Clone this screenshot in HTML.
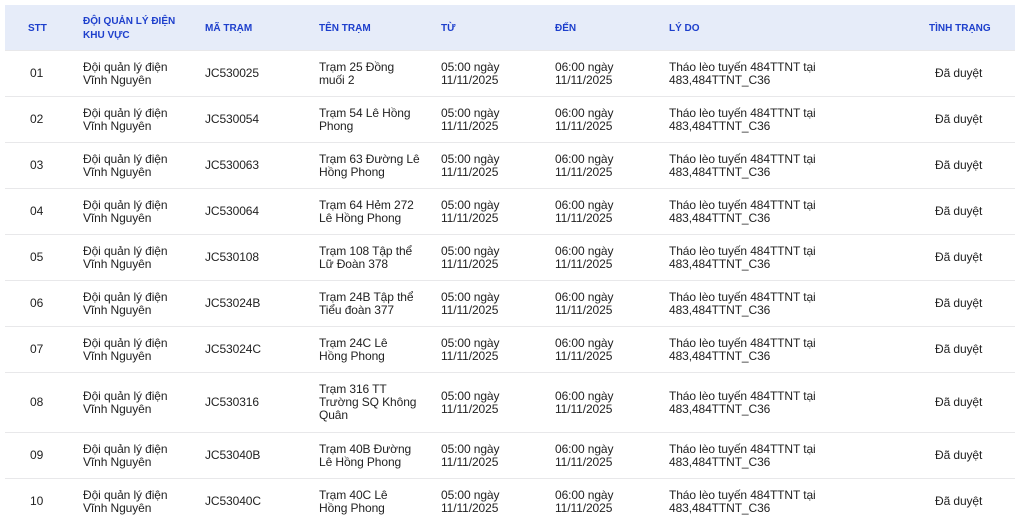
<!DOCTYPE html>
<html><head><meta charset="utf-8"><style>
body{margin:0;width:1024px;height:524px;background:#fff;overflow:hidden;font-family:"Liberation Sans","DejaVu Sans",sans-serif;}
.hd{position:absolute;left:5px;top:5px;width:1010px;height:45px;background:#e6ecf9;}
.h{position:absolute;top:6px;height:45px;display:flex;align-items:center;font-size:10px;font-weight:bold;color:#1d3fcc;line-height:14px;}
.r{position:absolute;left:5px;width:1010px;border-top:1px solid #e8e8ea;}
.c{position:absolute;top:0;bottom:0;display:flex;align-items:center;font-size:12px;letter-spacing:-0.1px;color:#222;line-height:13px;}
</style></head><body>
<div class="hd"></div>
<div class="h" style="left:28px">STT</div>
<div class="h" style="left:83px">ĐỘI QUẢN LÝ ĐIỆN<br>KHU VỰC</div>
<div class="h" style="left:205px">MÃ TRẠM</div>
<div class="h" style="left:319px">TÊN TRẠM</div>
<div class="h" style="left:441px">TỪ</div>
<div class="h" style="left:555px">ĐẾN</div>
<div class="h" style="left:669px">LÝ DO</div>
<div class="h" style="left:929px">TÌNH TRẠNG</div>
<div id="rows"></div>
<script>
var d=[["01","JC530025","Trạm 25 Đồng<br>muối 2"],["02","JC530054","Trạm 54 Lê Hồng<br>Phong"],["03","JC530063","Trạm 63 Đường Lê<br>Hồng Phong"],["04","JC530064","Trạm 64 Hẻm 272<br>Lê Hồng Phong"],["05","JC530108","Trạm 108 Tập thể<br>Lữ Đoàn 378"],["06","JC53024B","Trạm 24B Tập thể<br>Tiểu đoàn 377"],["07","JC53024C","Trạm 24C Lê<br>Hồng Phong"],["08","JC530316","Trạm 316 TT<br>Trường SQ Không<br>Quân"],["09","JC53040B","Trạm 40B Đường<br>Lê Hồng Phong"],["10","JC53040C","Trạm 40C Lê<br>Hồng Phong"]];
var y=[50,96,142,188,234,280,326,372,432,478,524];
var h="";
for(var i=0;i<10;i++){
h+='<div class="r" style="top:'+y[i]+'px;height:'+(y[i+1]-y[i]-1)+'px">'+
'<div class="c" style="left:25px">'+d[i][0]+'</div>'+
'<div class="c" style="left:78px">Đội quản lý điện<br>Vĩnh Nguyên</div>'+
'<div class="c" style="left:200px">'+d[i][1]+'</div>'+
'<div class="c" style="left:314px">'+d[i][2]+'</div>'+
'<div class="c" style="left:436px">05:00 ngày<br>11/11/2025</div>'+
'<div class="c" style="left:550px">06:00 ngày<br>11/11/2025</div>'+
'<div class="c" style="left:664px">Tháo lèo tuyến 484TTNT tại<br>483,484TTNT_C36</div>'+
'<div class="c" style="left:930px">Đã duyệt</div></div>';
}
document.getElementById("rows").innerHTML=h;
</script>
</body></html>
